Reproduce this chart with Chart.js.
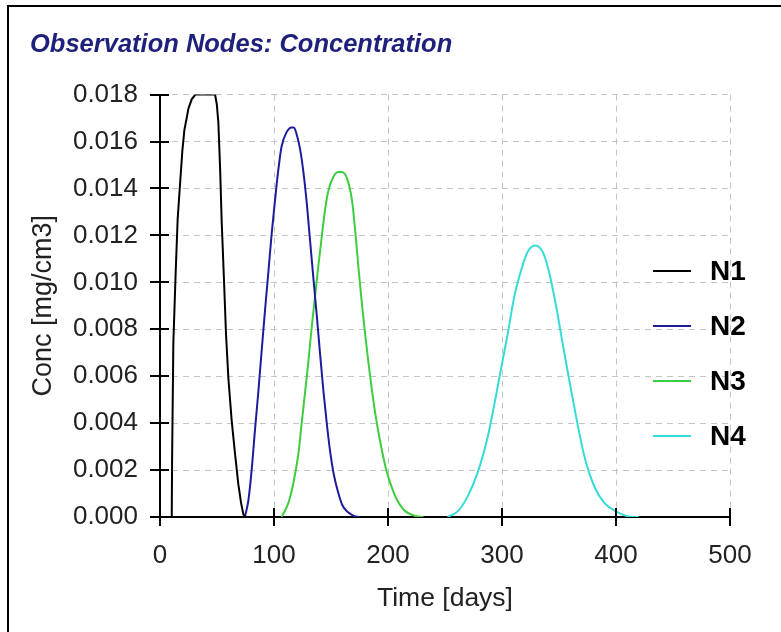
<!DOCTYPE html>
<html>
<head>
<meta charset="utf-8">
<script src="https://cdn.jsdelivr.net/npm/chart.js@4/dist/chart.umd.min.js"></script>
<style>
  html, body { margin: 0; padding: 0; background: #fff; }
  #wrap { width: 781px; height: 632px; }
</style>
</head>
<body>
<div id="wrap"><canvas id="grafico" width="781" height="632"></canvas></div>
<script>
// series (time in days, concentration in mg/cm3)
const n1Days = [0, 10.3, 10.6, 11.7, 13.8, 15.5, 17.6, 19.6, 21.4, 23.4, 24.9, 27.8, 31, 48.3, 49.8, 51.2, 52.7, 54.1, 56.2, 57.9, 60, 62.9, 65.8, 68.7, 71.1, 73.2, 75];
const n1Conc = [0, 0, 0.0024, 0.0074, 0.0105, 0.0127, 0.0142, 0.0156, 0.0165, 0.0170, 0.0174, 0.0178, 0.0180, 0.0180, 0.0176, 0.0168, 0.0149, 0.0126, 0.0100, 0.0078, 0.0059, 0.0041, 0.0027, 0.0014, 0.0006, 0.0001, 0];

const n2Days = [74.5, 77.5, 80.4, 83.3, 86.2, 89.2, 92.1, 95, 98, 100.9, 103.8, 106.7, 111.1, 115.5, 117.5, 119.9, 122.8, 125.8, 128.7, 131.6, 134.5, 137.5, 140.5, 143.5, 146.5, 149.5, 152.5, 156, 160, 165, 170, 175];
const n2Conc = [0, 0.0007, 0.0020, 0.0037, 0.0053, 0.0071, 0.0088, 0.0104, 0.0121, 0.0135, 0.0148, 0.0158, 0.0164, 0.0166, 0.0166, 0.0163, 0.0157, 0.0147, 0.0134, 0.0118, 0.0102, 0.0086, 0.0069, 0.0053, 0.0039, 0.0027, 0.0018, 0.0011, 0.0005, 0.0002, 0.00005, 0];

const n3Days = [106.7, 112.6, 117, 121.4, 124.3, 127.2, 130.1, 133.1, 136, 138.9, 141.8, 144.8, 147.7, 152.1, 156.5, 159.5, 164.3, 168.7, 171.6, 174.5, 177.5, 180.4, 183.3, 186.2, 189.2, 193.6, 198, 202.3, 208.2, 214, 222.8, 231];
const n3Conc = [0, 0.0006, 0.00145, 0.0027, 0.0040, 0.0053, 0.0066, 0.0081, 0.0094, 0.0107, 0.0119, 0.0131, 0.0139, 0.0145, 0.0147, 0.0147, 0.0144, 0.0134, 0.0120, 0.0104, 0.0089, 0.0076, 0.0064, 0.0053, 0.0043, 0.0031, 0.0021, 0.0014, 0.0007, 0.0003, 0.00006, 0];

const n4Days = [252.3, 261.1, 269.9, 278.7, 287.4, 293.3, 299.1, 305, 310.8, 316.7, 322.5, 329.2, 335.7, 341.5, 347.4, 353.2, 359.1, 364.9, 372.2, 381, 389.8, 400, 410.2, 420];
const n4Conc = [0, 0.00024, 0.00088, 0.0019, 0.0034, 0.0048, 0.0063, 0.0078, 0.0094, 0.0105, 0.0113, 0.01157, 0.0113, 0.0104, 0.0090, 0.0074, 0.0058, 0.0043, 0.0026, 0.0013, 0.0006, 0.00024, 0.00003, 0];

const nomes = ["N1", "N2", "N3", "N4"];
const cores = ["#000000", "#1c1c9c", "#3fcc3f", "#33dcd6"];
const xTicks = [0, 100, 200, 300, 400, 500];
const yTicks = [0, 0.002, 0.004, 0.006, 0.008, 0.010, 0.012, 0.014, 0.016, 0.018];

const fonte = "'Liberation Sans', Arial, sans-serif";

function pontos(dias, conc) {
  return dias.map((d, i) => ({ x: d, y: conc[i] }));
}

const series = [pontos(n1Days, n1Conc), pontos(n2Days, n2Conc), pontos(n3Days, n3Conc), pontos(n4Days, n4Conc)];

// white background + the frame lines on the left and top
const moldura = {
  id: "moldura",
  beforeDraw(chart) {
    const ctx = chart.ctx;
    ctx.save();
    ctx.fillStyle = "#fff";
    ctx.fillRect(0, 0, chart.width, chart.height);
    ctx.strokeStyle = "#000";
    ctx.lineWidth = 2;
    ctx.beginPath();
    ctx.moveTo(8, chart.height);
    ctx.lineTo(8, 6);
    ctx.lineTo(chart.width, 6);
    ctx.stroke();
    ctx.restore();
  }
};

// tick marks that cross the axis lines
const marcas = {
  id: "marcas",
  afterDatasetsDraw(chart) {
    const ctx = chart.ctx;
    const a = chart.chartArea;
    const sx = chart.scales.x, sy = chart.scales.y;
    ctx.save();
    ctx.strokeStyle = "#000";
    ctx.lineWidth = 2;
    ctx.beginPath();
    xTicks.forEach(v => {
      const px = Math.round(sx.getPixelForValue(v));
      ctx.moveTo(px, a.bottom - 9);
      ctx.lineTo(px, a.bottom + 9);
    });
    yTicks.forEach(v => {
      const py = Math.round(sy.getPixelForValue(v));
      ctx.moveTo(a.left - 10, py);
      ctx.lineTo(a.left + 9, py);
    });
    ctx.stroke();
    ctx.restore();
  }
};

// legend drawn over the right part of the plot
const legenda = {
  id: "legenda",
  afterDraw(chart) {
    const ctx = chart.ctx;
    const a = chart.chartArea;
    ctx.save();
    ctx.font = "bold 28px " + fonte;
    ctx.textBaseline = "middle";
    ctx.textAlign = "left";
    chart.data.datasets.forEach((ds, i) => {
      const y = 271 + i * 55;
      ctx.strokeStyle = ds.borderColor;
      ctx.lineWidth = 2;
      ctx.beginPath();
      ctx.moveTo(a.right - 77, y);
      ctx.lineTo(a.right - 39, y);
      ctx.stroke();
      ctx.fillStyle = "#000";
      ctx.fillText(ds.label, a.right - 20, y + 1);
    });
    ctx.restore();
  }
};

const ctx = document.getElementById("grafico");
const myChart = new Chart(ctx, {
  type: "line",
  data: {
    datasets: series.map((s, i) => ({
      label: nomes[i],
      data: s,
      borderColor: cores[i],
      backgroundColor: cores[i],
      borderWidth: 2,
      pointRadius: 0,
      tension: 0,
      cubicInterpolationMode: i === 0 ? "default" : "monotone",
      fill: false,
    })),
  },
  options: {
    responsive: false,
    devicePixelRatio: 1,
    animation: false,
    layout: { padding: { left: 30, right: 51, top: 0, bottom: 0 } },
    plugins: {
      legend: { display: false },
      tooltip: { enabled: false },
      title: {
        display: true,
        text: "Observation Nodes: Concentration",
        align: "start",
        color: "#1f1f7c",
        font: { family: fonte, size: 25.5, weight: "bold", style: "italic", lineHeight: 1.2 },
        padding: { top: 30, bottom: 34 },
      },
    },
    scales: {
      x: {
        type: "linear",
        min: 0,
        max: 500,
        afterBuildTicks: (s) => { s.ticks = xTicks.map(v => ({ value: v })); },
        afterFit: (s) => { s.height = 115; },
        ticks: {
          color: "#222",
          font: { family: fonte, size: 26 },
          padding: 23,
          maxRotation: 0,
        },
        grid: { color: "#c4c4c4", drawTicks: false, lineWidth: 1 },
        border: { display: true, color: "#000", width: 2, dash: [6, 5] },
        title: {
          display: true,
          text: "Time [days]",
          color: "#222",
          font: { family: fonte, size: 26.5, lineHeight: 1.2 },
          padding: { top: 0, bottom: 17 },
        },
      },
      y: {
        min: 0,
        max: 0.018,
        afterBuildTicks: (s) => { s.ticks = yTicks.map(v => ({ value: v })); },
        afterFit: (s) => { s.width = 130; },
        ticks: {
          color: "#222",
          font: { family: fonte, size: 26 },
          padding: 22,
          callback: (v) => Number(v).toFixed(3),
        },
        grid: { color: "#c4c4c4", drawTicks: false, lineWidth: 1 },
        border: { display: true, color: "#000", width: 2, dash: [6, 5] },
        title: {
          display: true,
          text: "Conc [mg/cm3]",
          color: "#222",
          font: { family: fonte, size: 27, lineHeight: 1 },
          padding: { top: 0, bottom: 0 },
        },
      },
    },
  },
  plugins: [moldura, marcas, legenda],
});
</script>
</body>
</html>
